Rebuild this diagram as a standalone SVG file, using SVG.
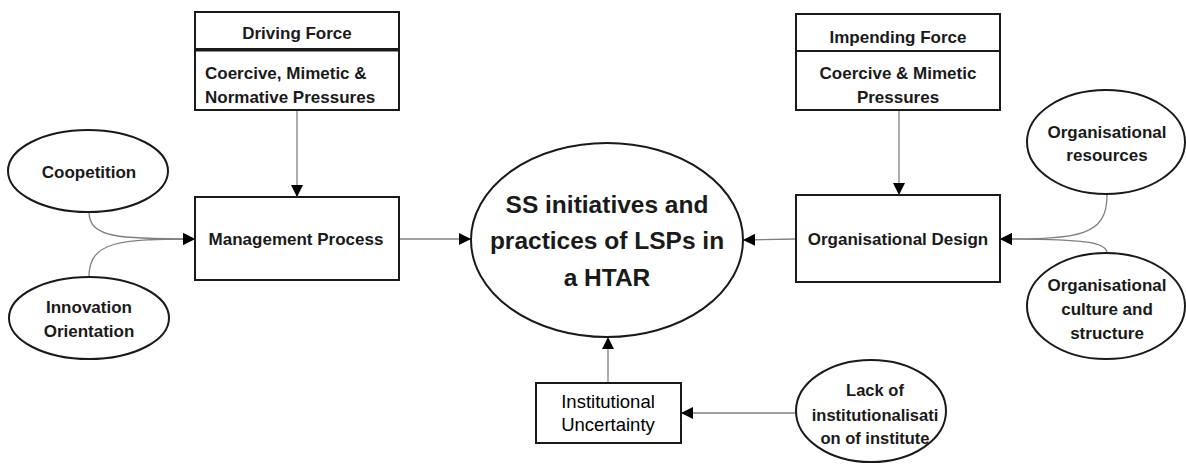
<svg xmlns="http://www.w3.org/2000/svg" width="1186" height="464" viewBox="0 0 1186 464">
<style>
.box{fill:#fff;stroke:#1a1a1a;stroke-width:2}
.ell{fill:#fff;stroke:#1a1a1a;stroke-width:2}
.t{font-family:"Liberation Sans",Arial,sans-serif;font-weight:bold;font-size:17px;fill:#1a1a1a;text-anchor:middle}
.tl{text-anchor:start}
.tr{font-weight:normal;font-size:18.5px;fill:#000}
.big{font-size:24.5px}
.sm{font-size:16.5px}
.con{fill:none;stroke:#808080;stroke-width:1.3}
</style>
<defs>
<marker id="ah" viewBox="0 0 12 12" refX="12" refY="6" markerWidth="12" markerHeight="12" markerUnits="userSpaceOnUse" orient="auto">
<path d="M0,0 L12,6 L0,12 z" fill="#000"/>
</marker>
</defs>
<rect width="1186" height="464" fill="#fff"/>
<g id="connectors">
<path class="con" d="M297,110 L297,197" marker-end="url(#ah)"/>
<path class="con" d="M899,110 L899,195" marker-end="url(#ah)"/>
<path class="con" d="M89,212 C89,238 120,239 195,239" marker-end="url(#ah)"/>
<path class="con" d="M89,277 C89,241 120,239 195,239" marker-end="url(#ah)"/>
<path class="con" d="M399,239 L471,239" marker-end="url(#ah)"/>
<path class="con" d="M796,239 L743,240" marker-end="url(#ah)"/>
<path class="con" d="M1107,195 C1107,236 1080,239 1000,239" marker-end="url(#ah)"/>
<path class="con" d="M1107,253 C1107,242 1085,239 1000,239" marker-end="url(#ah)"/>
<path class="con" d="M608,383 L608,337" marker-end="url(#ah)"/>
<path class="con" d="M797,413 L681,413" marker-end="url(#ah)"/>
</g>
<g id="driving-force">
<rect class="box" x="195" y="12" width="204" height="37"/>
<rect class="box" x="195" y="50.5" width="204" height="59.5"/>
<text class="t" x="297" y="39">Driving Force</text>
<text class="t tl" x="205" y="79">Coercive, Mimetic &amp;</text>
<text class="t tl" x="205" y="103">Normative Pressures</text>
</g>
<g id="management-process">
<rect class="box" x="195" y="197" width="204" height="83"/>
<text class="t" x="296" y="245">Management Process</text>
</g>
<g id="coopetition">
<ellipse class="ell" cx="88" cy="171" rx="80" ry="41"/>
<text class="t" x="89" y="178">Coopetition</text>
</g>
<g id="innovation-orientation">
<ellipse class="ell" cx="89" cy="318" rx="80" ry="41"/>
<text class="t" x="89" y="313">Innovation</text>
<text class="t" x="89" y="337">Orientation</text>
</g>
<g id="ss-initiatives">
<ellipse class="ell" cx="607" cy="240" rx="136" ry="97"/>
<text class="t big" x="607" y="213">SS initiatives and</text>
<text class="t big" x="607" y="249">practices of LSPs in</text>
<text class="t big" x="607" y="286">a HTAR</text>
</g>
<g id="impending-force">
<rect class="box" x="796" y="14" width="204" height="37"/>
<rect class="box" x="796" y="51" width="204" height="59"/>
<text class="t" x="898" y="43">Impending Force</text>
<text class="t" x="898" y="79">Coercive &amp; Mimetic</text>
<text class="t" x="898" y="103">Pressures</text>
</g>
<g id="organisational-design">
<rect class="box" x="796" y="195" width="204" height="87"/>
<text class="t" x="898" y="245">Organisational Design</text>
</g>
<g id="organisational-resources">
<ellipse class="ell" cx="1106" cy="142" rx="79" ry="52"/>
<text class="t" x="1107" y="138">Organisational</text>
<text class="t" x="1107" y="161">resources</text>
</g>
<g id="organisational-culture">
<ellipse class="ell" cx="1106" cy="306" rx="79" ry="53"/>
<text class="t" x="1107" y="291">Organisational</text>
<text class="t" x="1107" y="315">culture and</text>
<text class="t" x="1107" y="339">structure</text>
</g>
<g id="institutional-uncertainty">
<rect class="box" x="536" y="383" width="145" height="60"/>
<text class="t tr" x="608" y="408">Institutional</text>
<text class="t tr" x="608" y="431">Uncertainty</text>
</g>
<g id="lack-of-institutionalisation">
<ellipse class="ell" cx="871" cy="411" rx="75" ry="51"/>
<text class="t sm" x="875" y="396">Lack of</text>
<text class="t sm" x="875" y="421">institutionalisati</text>
<text class="t sm" x="875" y="444">on of institute</text>
</g>
</svg>
